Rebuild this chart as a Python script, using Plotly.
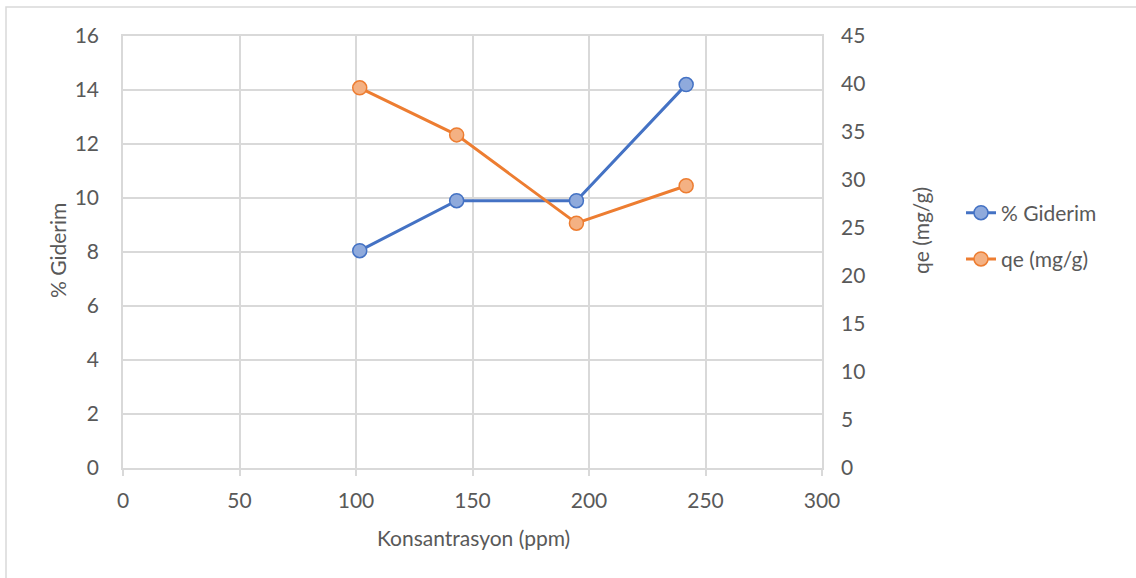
import plotly.graph_objects as go

konsantrasyon = [101.6, 143.2, 194.6, 241.7]
giderim = [8.05, 9.9, 9.9, 14.2]
qe = [39.6, 34.7, 25.5, 29.4]

x_ticks = [0, 50, 100, 150, 200, 250, 300]
y1_ticks = [0, 2, 4, 6, 8, 10, 12, 14, 16]
y2_ticks = [0, 5, 10, 15, 20, 25, 30, 35, 40, 45]

FONT = "Lato"
FS = 21
GRAY = "#595959"
GRID = "#d9d9d9"

fig = go.Figure()
fig.add_trace(go.Scatter(
    x=konsantrasyon, y=giderim, name="% Giderim", mode="lines+markers",
    legendgroup="a",
    line=dict(color="#4472C4", width=3),
    marker=dict(size=14, color="#8FAADC", line=dict(color="#4472C4", width=1.5)),
    yaxis="y"))
fig.add_trace(go.Scatter(
    x=konsantrasyon, y=qe, name="qe (mg/g)", mode="lines+markers",
    legendgroup="b",
    line=dict(color="#ED7D31", width=3),
    marker=dict(size=14, color="#F4B183", line=dict(color="#ED7D31", width=1.5)),
    yaxis="y2"))

axis_common = dict(zeroline=False,
                   tickfont=dict(family=FONT, size=FS, color=GRAY))

fig.update_layout(
    width=1136, height=578,
    margin=dict(l=123, r=314, t=36, b=110),
    paper_bgcolor="white", plot_bgcolor="white",
    font=dict(family=FONT, color=GRAY),
    showlegend=True,
    legend=dict(x=(961 - 123) / 699, y=(468 - 236) / 432, xanchor="left", yanchor="middle",
                font=dict(family=FONT, size=FS, color=GRAY),
                bgcolor="rgba(0,0,0,0)", traceorder="grouped", tracegroupgap=16),
    xaxis=dict(range=[0, 300], tickvals=x_ticks, showgrid=True, gridcolor=GRID,
               gridwidth=1.5, showline=True, linecolor=GRID, linewidth=1.5, mirror=True,
               ticks="outside", ticklen=6, tickcolor=GRID, tickwidth=1.5,
               ticklabelstandoff=7, **axis_common),
    yaxis=dict(range=[0, 16], tickvals=y1_ticks, showgrid=True, gridcolor=GRID,
               gridwidth=1.5, showline=True, linecolor=GRID, linewidth=1.5, mirror=True,
               ticklabelstandoff=18, **axis_common),
    yaxis2=dict(range=[0, 45], tickvals=y2_ticks, overlaying="y", side="right",
                showgrid=False, showline=False, ticklabelstandoff=18, **axis_common),
    shapes=[dict(type="rect", xref="paper", yref="paper",
                 x0=(6 - 123) / 699, x1=(1145 - 123) / 699,
                 y0=(468 - 590) / 432, y1=(468 - 7) / 432,
                 line=dict(color=GRID, width=1.5), fillcolor="rgba(0,0,0,0)",
                 layer="below")],
    annotations=[
        dict(text="Konsantrasyon (ppm)", xref="paper", yref="paper",
             x=(473 - 123) / 699, y=(468 - 537) / 432, showarrow=False,
             xanchor="center", yanchor="middle",
             font=dict(family=FONT, size=FS, color=GRAY)),
        dict(text="% Giderim", xref="paper", yref="paper",
             x=(57 - 123) / 699, y=(468 - 251) / 432, showarrow=False,
             textangle=-90, xanchor="center", yanchor="middle",
             font=dict(family=FONT, size=FS, color=GRAY)),
        dict(text="qe (mg/g)", xref="paper", yref="paper",
             x=(921 - 123) / 699, y=(468 - 231) / 432, showarrow=False,
             textangle=-90, xanchor="center", yanchor="middle",
             font=dict(family=FONT, size=FS, color=GRAY)),
    ],
)

fig.write_html("out.html")
